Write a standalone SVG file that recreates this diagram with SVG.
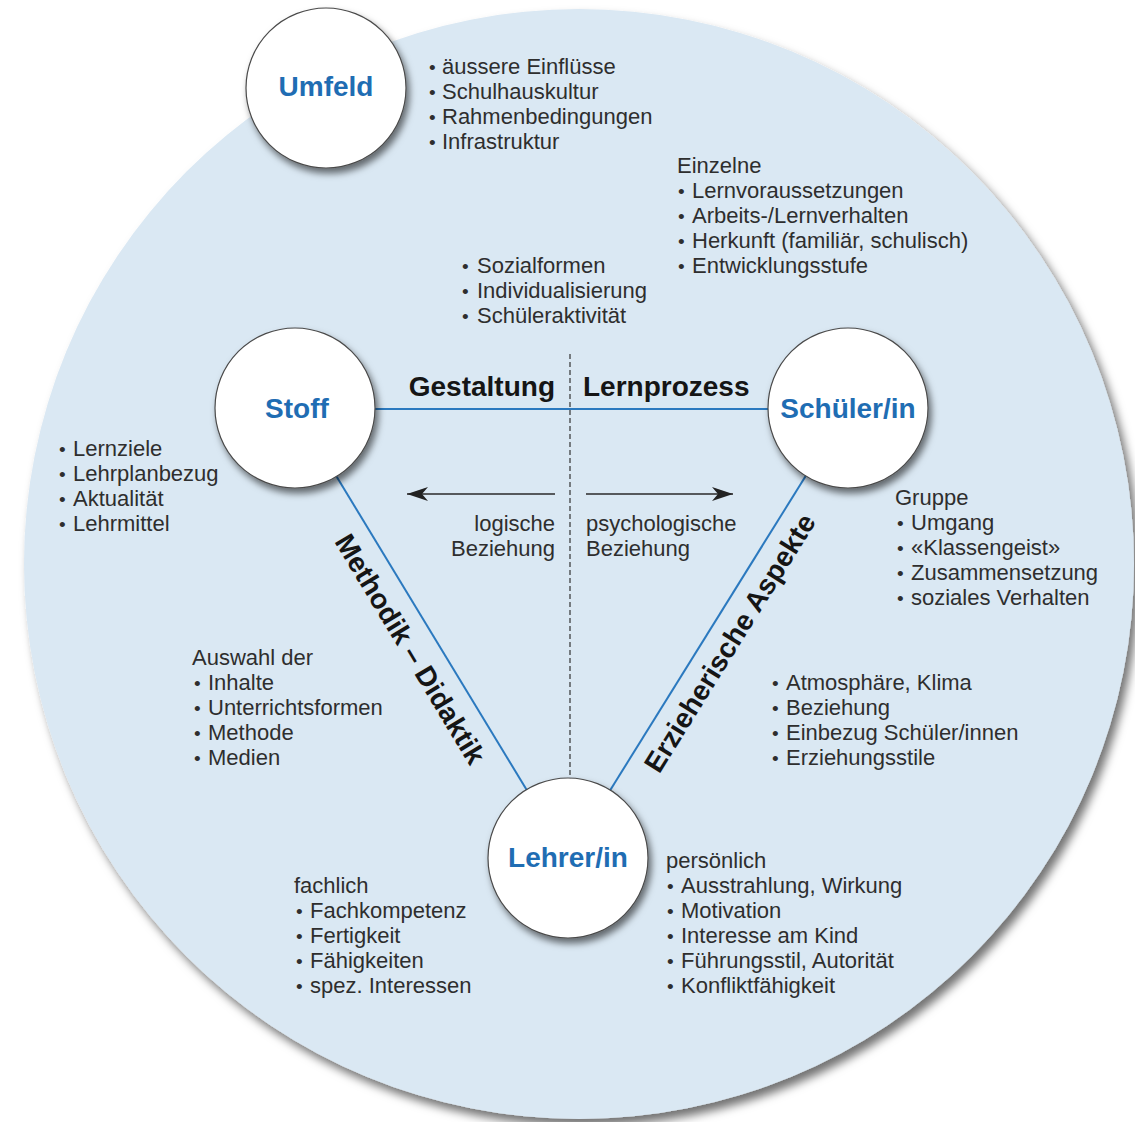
<svg xmlns="http://www.w3.org/2000/svg" width="1135" height="1122" viewBox="0 0 1135 1122">
<style>
.t{font-family:"Liberation Sans",Arial,sans-serif;font-size:22px;fill:#2e2e2e}
.b{font-size:19px}
.node{fill:#ffffff;stroke:#4a4a4a;stroke-width:1.2}
.nl{font-family:"Liberation Sans",Arial,sans-serif;font-size:28px;font-weight:bold;fill:#1f6db3;text-anchor:middle}
.hl{font-family:"Liberation Sans",Arial,sans-serif;font-size:28px;font-weight:bold;fill:#151515}
.edge{stroke:#2b79bf;stroke-width:2;fill:none}
.arr{stroke:#2a2a2a;stroke-width:1.6;fill:none;marker-end:url(#ah)}
</style>
<defs>
<filter id="bigsh" x="-10%" y="-10%" width="125%" height="125%">
<feDropShadow dx="5" dy="7" stdDeviation="5" flood-color="#000" flood-opacity="0.55"/>
</filter>
<filter id="sh" x="-20%" y="-20%" width="150%" height="150%">
<feDropShadow dx="3" dy="5" stdDeviation="3.5" flood-color="#000" flood-opacity="0.55"/>
</filter>
<marker id="ah" markerUnits="userSpaceOnUse" markerWidth="22" markerHeight="15" refX="21" refY="7.5" orient="auto">
<path d="M0,0.5 L21,7.5 L0,14.5 L6,7.5 Z" fill="#222"/>
</marker>
</defs>
<rect width="1135" height="1122" fill="#ffffff"/>
<circle id="umfeld-bg" cx="579" cy="564" r="555" fill="#dae8f3" filter="url(#bigsh)"/>

<g id="connectors">
<line class="edge" x1="295" y1="409" x2="848" y2="409"/>
<line class="edge" x1="295" y1="408" x2="568" y2="858"/>
<line class="edge" x1="848" y1="408" x2="568" y2="858"/>
<line x1="570" y1="354" x2="570" y2="817" stroke="#333" stroke-width="1.2" stroke-dasharray="5,3"/>
<line class="arr" x1="555" y1="494" x2="407" y2="494"/>
<line class="arr" x1="586" y1="494" x2="733" y2="494"/>
</g>

<g id="umfeld">
<circle class="node" cx="326" cy="88" r="80" filter="url(#sh)"/>
<text class="nl" x="326" y="96">Umfeld</text>
</g>
<g id="stoff">
<circle class="node" cx="295" cy="408" r="80" filter="url(#sh)"/>
<text class="nl" x="297" y="418">Stoff</text>
</g>
<g id="schueler">
<circle class="node" cx="848" cy="408" r="80" filter="url(#sh)"/>
<text class="nl" x="848" y="418">Schüler/in</text>
</g>
<g id="lehrer">
<circle class="node" cx="568" cy="858" r="80" filter="url(#sh)"/>
<text class="nl" x="568" y="867">Lehrer/in</text>
</g>

<g id="edge-labels">
<text class="hl" x="555" y="396" text-anchor="end">Gestaltung</text>
<text class="hl" x="583" y="396">Lernprozess</text>
<text class="hl" x="402" y="654" text-anchor="middle" transform="rotate(58.8 402 654)">Methodik – Didaktik</text>
<text class="hl" x="738" y="648" text-anchor="middle" transform="rotate(-58.1 738 648)">Erzieherische Aspekte</text>
<text class="t" x="555" y="531" text-anchor="end">logische</text>
<text class="t" x="555" y="556" text-anchor="end">Beziehung</text>
<text class="t" x="586" y="531">psychologische</text>
<text class="t" x="586" y="556">Beziehung</text>
</g>

<g id="list-umfeld" class="t">
<text x="429" y="74"><tspan class="b">•</tspan><tspan x="442">äussere Einflüsse</tspan></text>
<text x="429" y="99"><tspan class="b">•</tspan><tspan x="442">Schulhauskultur</tspan></text>
<text x="429" y="124"><tspan class="b">•</tspan><tspan x="442">Rahmenbedingungen</tspan></text>
<text x="429" y="149"><tspan class="b">•</tspan><tspan x="442">Infrastruktur</tspan></text>
</g>
<g id="list-einzelne" class="t">
<text x="677" y="173">Einzelne</text>
<text x="678" y="198"><tspan class="b">•</tspan><tspan x="692">Lernvoraussetzungen</tspan></text>
<text x="678" y="223"><tspan class="b">•</tspan><tspan x="692">Arbeits-/Lernverhalten</tspan></text>
<text x="678" y="248"><tspan class="b">•</tspan><tspan x="692">Herkunft (familiär, schulisch)</tspan></text>
<text x="678" y="273"><tspan class="b">•</tspan><tspan x="692">Entwicklungsstufe</tspan></text>
</g>
<g id="list-gestaltung" class="t">
<text x="462" y="273"><tspan class="b">•</tspan><tspan x="477">Sozialformen</tspan></text>
<text x="462" y="298"><tspan class="b">•</tspan><tspan x="477">Individualisierung</tspan></text>
<text x="462" y="323"><tspan class="b">•</tspan><tspan x="477">Schüleraktivität</tspan></text>
</g>
<g id="list-stoff" class="t">
<text x="59" y="456"><tspan class="b">•</tspan><tspan x="73">Lernziele</tspan></text>
<text x="59" y="481"><tspan class="b">•</tspan><tspan x="73">Lehrplanbezug</tspan></text>
<text x="59" y="506"><tspan class="b">•</tspan><tspan x="73">Aktualität</tspan></text>
<text x="59" y="531"><tspan class="b">•</tspan><tspan x="73">Lehrmittel</tspan></text>
</g>
<g id="list-gruppe" class="t">
<text x="895" y="505">Gruppe</text>
<text x="897" y="530"><tspan class="b">•</tspan><tspan x="911">Umgang</tspan></text>
<text x="897" y="555"><tspan class="b">•</tspan><tspan x="911">«Klassengeist»</tspan></text>
<text x="897" y="580"><tspan class="b">•</tspan><tspan x="911">Zusammensetzung</tspan></text>
<text x="897" y="605"><tspan class="b">•</tspan><tspan x="911">soziales Verhalten</tspan></text>
</g>
<g id="list-methodik" class="t">
<text x="192" y="665">Auswahl der</text>
<text x="194" y="690"><tspan class="b">•</tspan><tspan x="208">Inhalte</tspan></text>
<text x="194" y="715"><tspan class="b">•</tspan><tspan x="208">Unterrichtsformen</tspan></text>
<text x="194" y="740"><tspan class="b">•</tspan><tspan x="208">Methode</tspan></text>
<text x="194" y="765"><tspan class="b">•</tspan><tspan x="208">Medien</tspan></text>
</g>
<g id="list-erziehung" class="t">
<text x="772" y="690"><tspan class="b">•</tspan><tspan x="786">Atmosphäre, Klima</tspan></text>
<text x="772" y="715"><tspan class="b">•</tspan><tspan x="786">Beziehung</tspan></text>
<text x="772" y="740"><tspan class="b">•</tspan><tspan x="786">Einbezug Schüler/innen</tspan></text>
<text x="772" y="765"><tspan class="b">•</tspan><tspan x="786">Erziehungsstile</tspan></text>
</g>
<g id="list-fachlich" class="t">
<text x="294" y="893">fachlich</text>
<text x="296" y="918"><tspan class="b">•</tspan><tspan x="310">Fachkompetenz</tspan></text>
<text x="296" y="943"><tspan class="b">•</tspan><tspan x="310">Fertigkeit</tspan></text>
<text x="296" y="968"><tspan class="b">•</tspan><tspan x="310">Fähigkeiten</tspan></text>
<text x="296" y="993"><tspan class="b">•</tspan><tspan x="310">spez. Interessen</tspan></text>
</g>
<g id="list-persoenlich" class="t">
<text x="666" y="868">persönlich</text>
<text x="667" y="893"><tspan class="b">•</tspan><tspan x="681">Ausstrahlung, Wirkung</tspan></text>
<text x="667" y="918"><tspan class="b">•</tspan><tspan x="681">Motivation</tspan></text>
<text x="667" y="943"><tspan class="b">•</tspan><tspan x="681">Interesse am Kind</tspan></text>
<text x="667" y="968"><tspan class="b">•</tspan><tspan x="681">Führungsstil, Autorität</tspan></text>
<text x="667" y="993"><tspan class="b">•</tspan><tspan x="681">Konfliktfähigkeit</tspan></text>
</g>
</svg>
